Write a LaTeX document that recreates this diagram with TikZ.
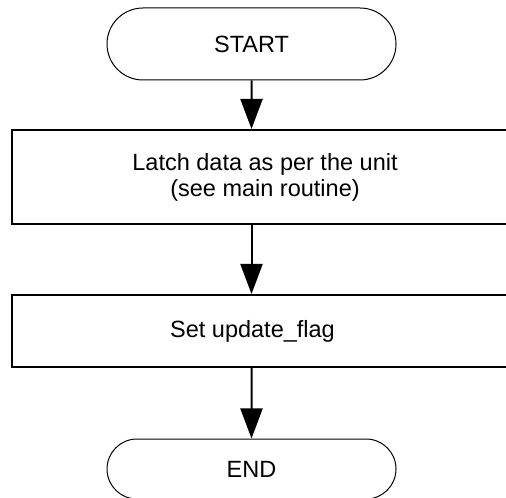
\documentclass[tikz,border=0pt]{standalone}
\usepackage{fontspec}
\setmainfont{Liberation Sans}
\usetikzlibrary{shapes.misc,arrows.meta}
\tikzset{
  terminal/.style={draw, rounded rectangle, line width=0.5pt, minimum width=144.5pt, inner sep=0pt},
  procbox/.style={draw, rectangle, line width=1pt, minimum width=253pt, inner sep=0pt},
  txt/.style={align=center, inner sep=0pt},
  flow/.style={line width=1pt, -{Triangle[length=15pt,width=11pt]}}
}
\begin{document}
\begin{tikzpicture}[x=0.5pt, y=0.5pt, font=\fontsize{11.75}{13}\selectfont]
  \useasboundingbox (0,0) rectangle (506,497);
  \clip (0,0) rectangle (506,497);
  % terminals
  \node[terminal, minimum height=36pt] (start) at (251.5,453) {START};
  \node[terminal, minimum height=30pt] (end) at (251.5,28) {END};
  % process boxes
  \node[procbox, minimum height=47pt] (latch) at (265,320) {};
  \node[txt] (latchtext) at (265,320) {Latch data as per the unit\\(see main routine)};
  \node[procbox, minimum height=36pt] (flag) at (265,166) {};
  \node[txt] (flagtext) at (252.5,166) {Set update\_flag};
  % connectors
  \draw[flow] (start) -- (start |- latch.north);
  \draw[flow] (start |- latch.south) -- (start |- flag.north);
  \draw[flow] (start |- flag.south) -- (end);
\end{tikzpicture}
\end{document}
